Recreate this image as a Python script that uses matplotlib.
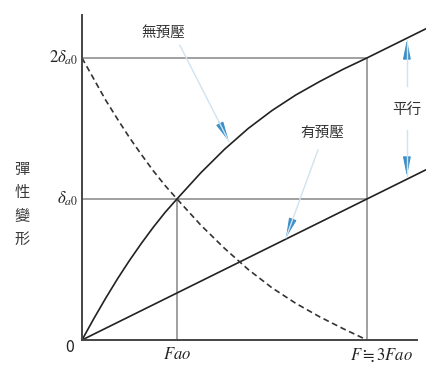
import matplotlib.pyplot as plt
from matplotlib.patches import FancyArrowPatch

plt.rcParams['font.family'] = ['Noto Sans CJK TC', 'DejaVu Sans']
plt.rcParams['mathtext.fontset'] = 'stix'

# force in units of Fao, deformation in units of delta_a0
force = [0, 0.125, 0.25, 0.375, 0.5, 0.625, 0.75, 0.875, 1.0,
         1.25, 1.5, 1.75, 2.0, 2.25, 2.5, 2.75, 3.0, 3.3, 3.63]
no_preload = [0, 0.152, 0.297, 0.435, 0.564, 0.685, 0.799, 0.905, 1.0,
              1.185, 1.352, 1.50, 1.627, 1.737, 1.832, 1.92, 2.0, 2.10, 2.21]
force_nut = [0, 0.125, 0.25, 0.375, 0.5, 0.625, 0.75, 0.875, 1.0,
             1.25, 1.5, 1.75, 2.0, 2.25, 2.5, 2.75, 3.0]
nut_curve = [2.0, 1.85, 1.70, 1.565, 1.435, 1.315, 1.20, 1.095, 1.0,
             0.815, 0.65, 0.50, 0.37, 0.26, 0.165, 0.08, 0.0]
preload_force = [0, 3.63]
preload = [0, 1.21]

fao = 1.0
f_max = 3.0
d0 = 1.0
d_max = 2.0

fig = plt.figure(figsize=(4.27, 3.69), dpi=100)
ax = fig.add_axes([0.192, 0.0786, 0.7845, 0.881])
ax.set_xlim(0, 3.526)
ax.set_ylim(0, 2.305)

grey = "#a0a0a0"
ax.plot([0, f_max], [d_max, d_max], color=grey, lw=1.4)
ax.plot([0, f_max], [d0, d0], color=grey, lw=1.4)
ax.plot([fao, fao], [0, d0], color=grey, lw=1.4)
ax.plot([f_max, f_max], [0, d_max], color=grey, lw=1.4)

ax.plot(force, no_preload, color="#222222", lw=1.2, clip_on=False)
ax.plot(preload_force, preload, color="#222222", lw=1.2, clip_on=False)
ax.plot(force_nut, nut_curve, color="#333333", lw=1.2, dashes=(3.5, 2.2), clip_on=False)

for s in ["top", "right"]:
    ax.spines[s].set_visible(False)
for s in ["left", "bottom"]:
    ax.spines[s].set_color("#444444")
    ax.spines[s].set_linewidth(1.4)
ax.set_xticks([])
ax.set_yticks([])

# axis labels
ax.text(-0.04, d_max, r"$2\delta_{\mathit{a0}}$", ha="right", va="center", fontsize=12, color="#222222")
ax.text(-0.04, d0, r"$\delta_{\mathit{a0}}$", ha="right", va="center", fontsize=12, color="#222222")
ax.text(-0.125, -0.05, "0", ha="center", va="center", fontsize=11.5, color="#222222")
ax.text(fao, -0.105, r"$\mathit{Fao}$", ha="center", va="center", fontsize=12, color="#222222")
ax.text(3.15, -0.105, r"$\mathit{F}\fallingdotseq\mathit{3Fao}$", ha="center", va="center",
        fontsize=12, color="#222222")
ax.text(-0.63, 0.96, "彈\n性\n變\n形", ha="center", va="center", fontsize=11,
        color="#3a3a3a", linespacing=1.5)


def blue_arrow(start, end):
    ax.plot([start[0], end[0]], [start[1], end[1]], color="#cfe3f1", lw=1.0, clip_on=False)
    mid = (start[0] + 0.8 * (end[0] - start[0]), start[1] + 0.8 * (end[1] - start[1]))
    arr = FancyArrowPatch(mid, end, arrowstyle="-|>,head_length=1.0,head_width=0.2",
                          mutation_scale=12, color="#3c8fc6", lw=0.8, shrinkA=0, shrinkB=0,
                          clip_on=False)
    ax.add_patch(arr)


ax.text(0.853, 2.18, "無預壓", ha="center", va="center", fontsize=10.5, color="#333333")
blue_arrow((1.03, 2.09), (1.545, 1.41))

ax.text(2.526, 1.468, "有預壓", ha="center", va="center", fontsize=10.5, color="#333333")
blue_arrow((2.484, 1.348), (2.147, 0.725))

ax.text(3.42, 1.63, "平行", ha="center", va="center", fontsize=10.5, color="#333333")
blue_arrow((3.42, 1.80), (3.42, 2.13))
blue_arrow((3.42, 1.49), (3.42, 1.16))

fig.savefig("out.png", dpi=100)
